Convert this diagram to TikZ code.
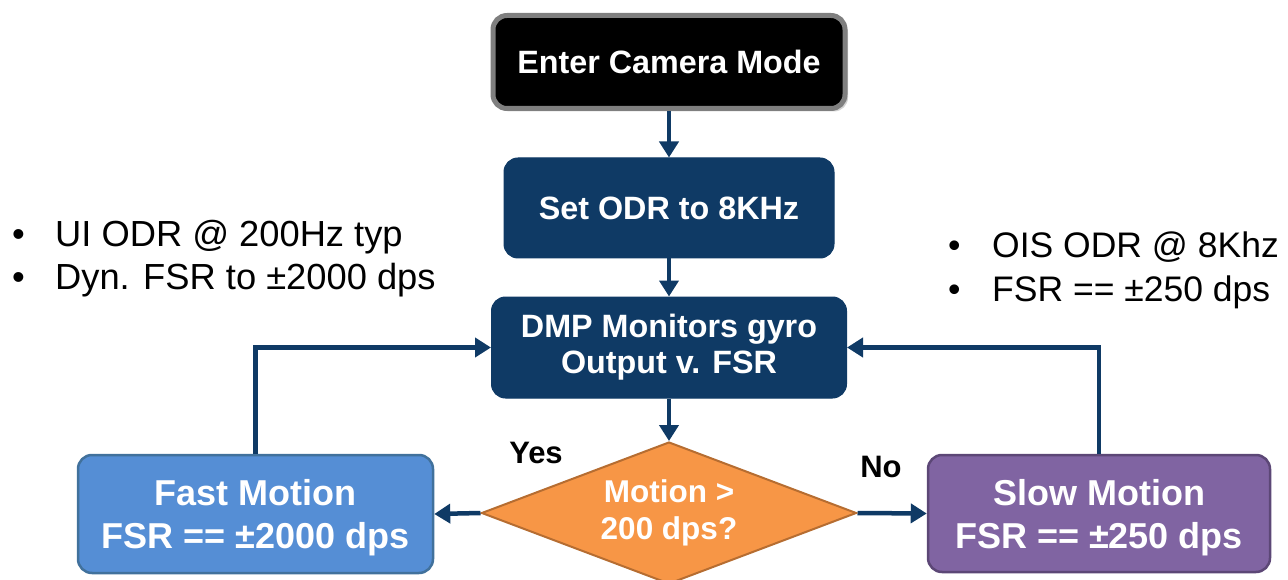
\documentclass[tikz,border=0pt]{standalone}
\usepackage{fontspec}
\setmainfont{Liberation Sans}
\usetikzlibrary{shapes.geometric,arrows.meta,shadows}
\definecolor{navy}{HTML}{0F3A65}
\definecolor{fastfill}{HTML}{558ED5}
\definecolor{fastdraw}{HTML}{41719C}
\definecolor{slowfill}{HTML}{8064A2}
\definecolor{slowdraw}{HTML}{5C4776}
\definecolor{orfill}{HTML}{F79646}
\definecolor{ordraw}{HTML}{B66D31}
\definecolor{grayborder}{HTML}{7F7F7F}
\begin{document}
\begin{tikzpicture}[x=1pt,y=-1pt,
  box/.style={rounded corners=14pt, align=center, text=white, inner sep=0pt},
  navybox/.style={box, fill=navy, draw=navy, line width=1pt, font=\bfseries\fontsize{32.3}{36}\selectfont},
  motionbox/.style={box, line width=2.5pt, font=\bfseries\fontsize{36}{43}\selectfont},
  conn/.style={navy, line width=4.5pt, -{Triangle[length=16pt,width=19pt]}},
  lbl/.style={font=\bfseries\fontsize{31}{34}\selectfont, text=black},
  bul/.style={anchor=base west, inner sep=0pt, font=\fontsize{36.3}{42}\selectfont, text=black},
  bulr/.style={bul, font=\fontsize{35.5}{42}\selectfont}
]
\useasboundingbox (0,0) rectangle (1288,580);

\node[box, fill=black, draw=grayborder, line width=5pt, minimum width=352pt, minimum height=93pt,
      font=\bfseries\fontsize{32.3}{36}\selectfont,
      drop shadow={opacity=0.35, shadow xshift=3pt, shadow yshift=-3pt}] (enter) at (669,62) {Enter Camera Mode};
\node[navybox, minimum width=330pt, minimum height=100pt] (set) at (669,208) {Set ODR to 8KHz};
\node[navybox, minimum width=355pt, minimum height=101pt] (dmp) at (669,347.5) {DMP Monitors gyro\\Output v. FSR};
\node[shape=diamond, aspect=2.64, fill=orfill, draw=ordraw, line width=2pt, inner sep=0pt,
      minimum width=375pt, minimum height=142pt, align=center, text=white,
      font=\bfseries\fontsize{31.5}{37}\selectfont] (dia) at (669,513) {Motion >\\200 dps?};
\node[motionbox, fill=fastfill, draw=fastdraw, minimum width=355pt, minimum height=118pt,
      text depth=0pt] (fast) at (255.5,514) {Fast Motion\\FSR == ±2000 dps};
\node[motionbox, fill=slowfill, draw=slowdraw, minimum width=342pt, minimum height=117pt,
      text depth=0pt] (slow) at (1099,513.5) {Slow Motion\\FSR == ±250 dps};

\draw[conn] (enter.south) -- (set.north);
\draw[conn] (set.south) -- (dmp.north);
\draw[conn] (dmp.south) -- (dia.north);
\draw[conn] (dia.west) -- (fast.east);
\draw[conn] (dia.east) -- (slow.west);
\draw[conn] (fast.north) |- (dmp.west);
\draw[conn] (slow.north) |- (dmp.east);

\node[lbl] (yes) at (536,453) {Yes};
\node[lbl] (no) at (881,467) {No};

\node[bul] (l1) at (12,247) {\makebox[43pt][l]{•}UI ODR @ 200Hz typ};
\node[bul] (l2) at (12,290) {\makebox[43pt][l]{•}Dyn. FSR to ±2000 dps};
\node[bulr] (r1) at (948,258) {\makebox[44pt][l]{•}OIS ODR @ 8Khz};
\node[bulr] (r2) at (948,301) {\makebox[44pt][l]{•}FSR == ±250 dps};
\end{tikzpicture}
\end{document}
